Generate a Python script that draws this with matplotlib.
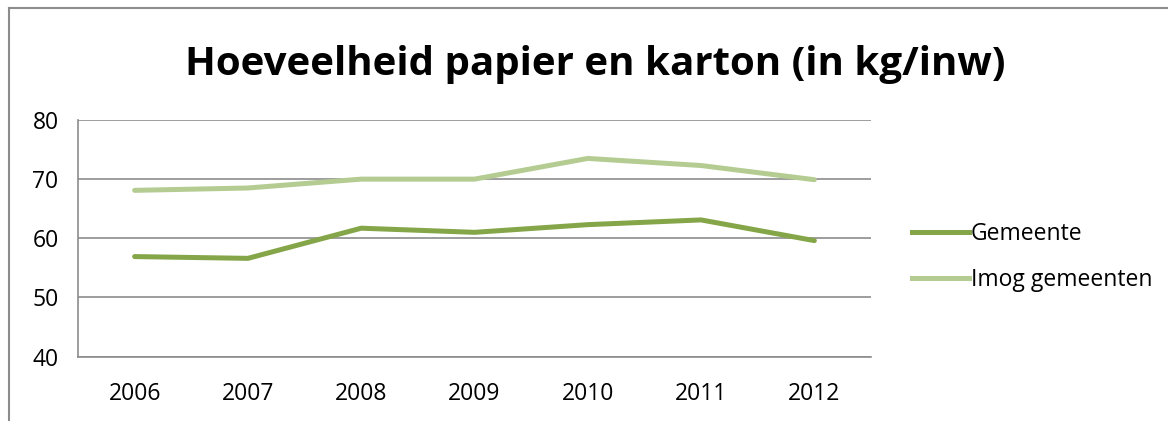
import matplotlib.pyplot as plt
from matplotlib.lines import Line2D

plt.rcParams['font.family'] = ['Open Sans', 'DejaVu Sans']

years = ["2006", "2007", "2008", "2009", "2010", "2011", "2012"]
gemeente = [56.9, 56.6, 61.7, 61.0, 62.3, 63.1, 59.6]
imog = [68.1, 68.5, 70.0, 70.0, 73.5, 72.3, 69.9]
series_names = ["Gemeente", "Imog gemeenten"]
title = "Hoeveelheid papier en karton (in kg/inw)"

dark_green = "#84A548"
light_green = "#B4CC92"
grid_grey = "#8C8C8C"

fig = plt.figure(figsize=(11.68, 4.21), dpi=100)
ax = fig.add_axes([78 / 1168, 1 - 356.5 / 421, 793 / 1168, 236.5 / 421])

x = range(len(years))
ax.plot(x, gemeente, color=dark_green, lw=3.6, solid_capstyle='round', zorder=3)
ax.plot(x, imog, color=light_green, lw=3.6, solid_capstyle='round', zorder=3)

ax.set_xlim(-0.5, len(years) - 0.5)
ax.set_ylim(40, 80)
ax.set_yticks([40, 50, 60, 70, 80])
ax.set_xticks(list(x))
ax.set_xticklabels(years)
ax.tick_params(length=0, labelsize=16.5, colors="black")
ax.tick_params(axis='y', pad=14)
ax.tick_params(axis='x', pad=18)

ax.grid(axis='y', color=grid_grey, lw=1.2)
ax.set_axisbelow(True)
for side in ["top", "right"]:
    ax.spines[side].set_visible(False)
for side in ["left", "bottom"]:
    ax.spines[side].set_color(grid_grey)
    ax.spines[side].set_linewidth(1.2)

fig.text(0.51, 1 - 64 / 421, title, ha='center', va='center',
         fontsize=29, fontweight='bold')

handles = [Line2D([], [], color=dark_green, lw=3.6),
           Line2D([], [], color=light_green, lw=3.6)]
fig.legend(handles, series_names, loc='center left',
           bbox_to_anchor=(903 / 1168, 1 - 257 / 421), frameon=False,
           fontsize=16.5, handlelength=2.5, handletextpad=0.05,
           labelspacing=0.95, borderaxespad=0)

# chart area border (only top and left edges visible)
fig.add_artist(Line2D([8.5 / 1168, 1], [1 - 7.5 / 421, 1 - 7.5 / 421],
                      color="#8C8C8C", lw=1.5, transform=fig.transFigure))
fig.add_artist(Line2D([8.5 / 1168, 8.5 / 1168], [0, 1 - 7.5 / 421],
                      color="#8C8C8C", lw=1.5, transform=fig.transFigure))

fig.savefig("out.png", dpi=100)
